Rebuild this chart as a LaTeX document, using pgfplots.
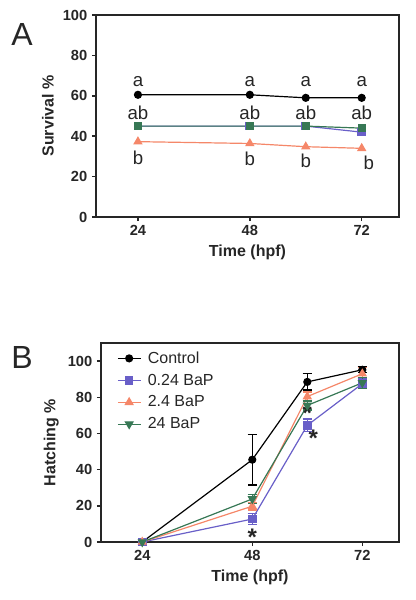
\documentclass[border=0pt]{standalone}
\usepackage{fontspec}
\setmainfont{Liberation Sans}
\usepackage{pgfplots}
\pgfplotsset{compat=1.18}
\definecolor{cblue}{RGB}{105,95,200}
\definecolor{corange}{RGB}{245,135,105}
\definecolor{cgreen}{RGB}{55,120,85}
\pgfplotsset{
  myaxis/.style={
    scale only axis,
    xmin=15, xmax=80,
    xtick={24,48,72},
    tick align=outside,
    xtick pos=bottom, ytick pos=left,
    major tick length=3pt,
    axis line style={line width=1.2pt, color=black!85},
    every tick/.style={line width=1.1pt, black!85},
    tick label style={font=\fontsize{11}{12}\selectfont\bfseries, black!85},
    label style={font=\fontsize{12}{14}\selectfont\bfseries, black!85},
    /pgf/number format/assume math mode=true,
    xlabel={Time (hpf)},
    clip=false,
  },
  ctrl/.style={black, line width=0.9pt, mark=*, mark size=2.6pt, mark options={solid}},
  sblue/.style={cblue, line width=0.9pt, mark=square*, mark size=2.8pt},
  sorange/.style={corange, line width=0.9pt, mark=triangle*, mark size=3.2pt},
  sgreen/.style={cgreen, line width=0.9pt, mark=triangle*, mark size=3.2pt, mark options={rotate=180}},
}
\begin{document}
\begin{tikzpicture}
\useasboundingbox (0,0) rectangle (312pt,-450pt);
\node[font=\fontsize{24}{26}\selectfont, black!85] at (16.5pt,-25.5pt) {A};
\node[font=\fontsize{24}{26}\selectfont, black!85] at (16.5pt,-268pt) {B};
% Panel A
\begin{axis}[myaxis,
  at={(72pt,-162.75pt)}, anchor=south west,
  width=227.25pt, height=151.5pt,
  ymin=0, ymax=100, ytick={0,20,40,60,80,100},
  ylabel={Survival \%},
]
\addplot[ctrl] coordinates {(24,60.5) (48,60.5) (60,59) (72,59)};
\addplot[sblue] coordinates {(24,45) (48,45) (60,45) (72,42)};
\addplot[sgreen, mark=square*, mark size=2.6pt, mark options={rotate=0}] coordinates {(24,45) (48,45) (60,45) (72,44)};
\addplot[sorange] coordinates {(24,37.3) (48,36.4) (60,34.8) (72,34)};
\begin{scope}[every node/.style={font=\fontsize{14}{16}\selectfont, black!85}]
\node at (axis cs:24,67) {a};
\node at (axis cs:48,67) {a};
\node at (axis cs:60,67) {a};
\node at (axis cs:72,67) {a};
\node at (axis cs:24,51.5) {ab};
\node at (axis cs:48,51.5) {ab};
\node at (axis cs:60,51.5) {ab};
\node at (axis cs:72,51.5) {ab};
\node at (axis cs:24,29.5) {b};
\node at (axis cs:48,29) {b};
\node at (axis cs:60,28) {b};
\node at (axis cs:73.5,26.8) {b};
\end{scope}
\end{axis}
% Panel B
\begin{axis}[myaxis,
  at={(75.75pt,-406.5pt)}, anchor=south west,
  width=223.5pt, height=149.25pt,
  ymin=0, ymax=110, ytick={0,20,40,60,80,100},
  ylabel={Hatching \%},
  legend style={at={(0.04,0.985)}, anchor=north west, draw=none, fill=none,
    font=\fontsize{12}{14}\selectfont, row sep=2.5pt, text=black!85,
    /tikz/every odd column/.style={column sep=3pt}},
  legend cell align=left,
  error bars/y dir=both, error bars/y explicit,
  error bars/error bar style={line width=1.1pt},
  error bars/error mark options={rotate=90, mark size=3.5pt, line width=1.1pt},
]
\addplot[ctrl, error bars/error bar style={black}] coordinates {(24,0) +- (0,0) (48,45.5) +- (0,14) (60,88.5) +- (0,4.5) (72,95.2) +- (0,1.5)};
\addlegendentry{Control}
\addplot[sblue, error bars/error bar style={cblue}] coordinates {(24,0) +- (0,0) (48,12.7) +- (0,3) (60,64.5) +- (0,3.5) (72,87.5) +- (0,2.5)};
\addlegendentry{0.24 BaP}
\addplot[sorange, error bars/error bar style={corange}] coordinates {(24,0) +- (0,0) (48,19.8) +- (0,2) (60,80.4) +- (0,2.5) (72,93) +- (0,3.5)};
\addlegendentry{2.4 BaP}
\addplot[sgreen, error bars/error bar style={cgreen}] coordinates {(24,0) +- (0,0) (48,23.8) +- (0,2.5) (60,75.5) +- (0,2.5) (72,88) +- (0,3)};
\addlegendentry{24 BaP}
\begin{scope}[every node/.style={font=\fontsize{18}{18}\selectfont\bfseries, black!85}]
\node at (axis cs:48,2.5) {*};
\node at (axis cs:60,71) {*};
\node at (axis cs:61.3,57.5) {*};
\end{scope}
\end{axis}
\end{tikzpicture}
\end{document}
